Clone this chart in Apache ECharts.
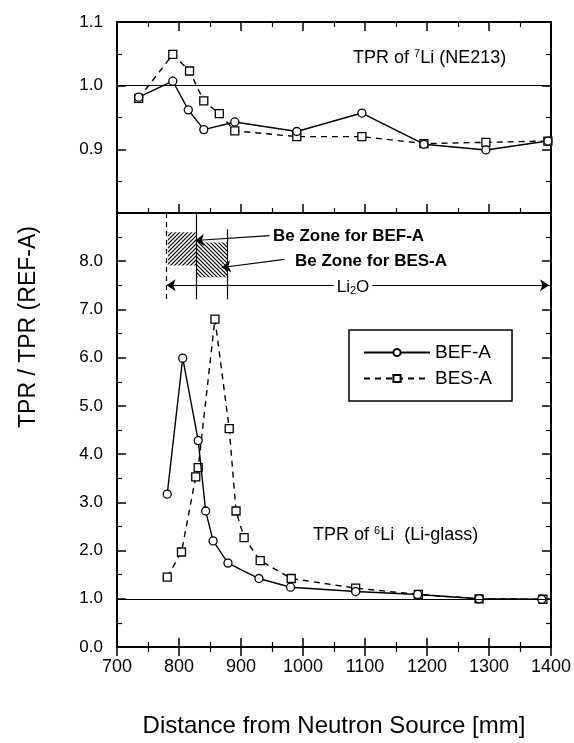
<!DOCTYPE html>
<html><head><meta charset="utf-8">
<script src="https://cdn.jsdelivr.net/npm/echarts@6/dist/echarts.min.js"></script>
<style>html,body{margin:0;padding:0;background:#fff;}#c{width:574px;height:743px;}</style>
</head><body><div id="c"></div>
<script>
// ---- data ----
const topBefX = [735, 790, 815, 840, 890, 990, 1095, 1195, 1295, 1395];
const topBefY = [0.982, 1.007, 0.962, 0.931, 0.943, 0.928, 0.957, 0.908, 0.899, 0.913];
const topBesX = [735, 790, 817, 840, 865, 890, 990, 1095, 1195, 1295, 1395];
const topBesY = [0.980, 1.049, 1.023, 0.976, 0.956, 0.929, 0.920, 0.920, 0.909, 0.911, 0.913];
const botBefX = [781, 806, 831, 843, 855, 879, 929, 980, 1085, 1185, 1284, 1385];
const botBefY = [3.17, 5.99, 4.28, 2.82, 2.20, 1.74, 1.42, 1.24, 1.15, 1.09, 1.00, 0.99];
const botBesX = [781, 804, 827, 831, 858, 881, 892, 905, 931, 981, 1085, 1186, 1284, 1387];
const botBesY = [1.45, 1.97, 3.53, 3.72, 6.80, 4.53, 2.82, 2.27, 1.79, 1.42, 1.22, 1.09, 1.00, 0.99];
// Be zones (distance start/end, ratio low/high)
const zoneNames = ['BEF-A', 'BES-A'];
const zoneX0 = [782, 828];
const zoneX1 = [828, 878];
const zoneYlo = [7.91, 7.67];
const zoneYhi = [8.60, 8.39];
// Li2O region
const li2oStart = 780, li2oEnd = 1397, li2oLevel = 7.5;

const FONT = "'Liberation Sans', Arial, sans-serif";
const zip = (a, b) => a.map((v, i) => [v, b[i]]);

function hatch(dir) {
  const c = document.createElement('canvas'); c.width = 4; c.height = 4;
  const g = c.getContext('2d');
  g.fillStyle = '#fff'; g.fillRect(0, 0, 4, 4);
  g.strokeStyle = '#000'; g.lineWidth = 1.2; g.beginPath();
  if (dir > 0) { g.moveTo(0, 4); g.lineTo(4, 0); g.moveTo(-1, 1); g.lineTo(1, -1); g.moveTo(3, 5); g.lineTo(5, 3); }
  else { g.moveTo(0, 0); g.lineTo(4, 4); g.moveTo(-1, 3); g.lineTo(1, 5); g.moveTo(3, -1); g.lineTo(5, 1); }
  g.stroke(); return c;
}
const hatches = [hatch(1), hatch(-1)];

const chart = echarts.init(document.getElementById('c'), null, {renderer: 'canvas'});
const axLine = {show: true, lineStyle: {color: '#000', width: 2}};
const tick = {show: true, inside: true, length: 9, lineStyle: {color: '#000', width: 1.5}};
const minor = {show: true, splitNumber: 2, length: 5, lineStyle: {color: '#000', width: 1.2}};
function xAx(grid, pos, labels) {
  return {type: 'value', gridIndex: grid, position: pos, min: 700, max: 1400, interval: 100,
    axisLine: axLine, axisTick: tick, minorTick: minor, splitLine: {show: false},
    axisLabel: {show: labels, color: '#000', fontSize: 18, fontFamily: FONT, margin: 11, formatter: v => String(v)},
    name: labels ? 'Distance from Neutron Source [mm]' : '', nameLocation: 'middle', nameGap: 67,
    nameTextStyle: {color: '#000', fontSize: 24, fontFamily: FONT}};
}
function yAx(grid, pos, min, max, interval, labels, fmt) {
  return {type: 'value', gridIndex: grid, position: pos, min: min, max: max, interval: interval,
    axisLine: axLine, axisTick: tick, minorTick: minor, splitLine: {show: false},
    axisLabel: {show: labels, color: '#000', fontSize: 17, fontFamily: FONT, margin: 14, formatter: fmt}};
}
const circ = {color: '#fff', borderColor: '#000', borderWidth: 1.3};
function ser(name, x, y, xi, yi, dashed, extra) {
  return Object.assign({
    name: name, type: 'line', xAxisIndex: xi, yAxisIndex: yi, data: zip(x, y),
    symbol: dashed ? 'rect' : 'circle', symbolSize: 8, showSymbol: true,
    itemStyle: circ, lineStyle: {color: '#000', width: 1.4, type: dashed ? [6, 5] : 'solid'},
    emphasis: {disabled: true}, z: dashed ? 3 : 4
  }, extra || {});
}
const refLine = (data) => ({silent: true, symbol: ['none', 'none'], label: {show: false},
  lineStyle: {color: '#000', width: 1.2, type: 'solid'}, emphasis: {disabled: true}, data: data});

const lblStyle = {fill: '#000', fontFamily: FONT};
const supRich = {sup: {fontSize: 11, verticalAlign: 'top', padding: [0, 0, 8, 0], fontFamily: FONT, color: '#000'}};
const option = {
  animation: false,
  backgroundColor: '#fff',
  grid: [
    {left: 117, top: 22, width: 434, height: 191},
    {left: 117, top: 213, width: 434, height: 436}
  ],
  xAxis: [xAx(0, 'bottom', false), xAx(1, 'bottom', true), xAx(0, 'top', false), xAx(1, 'top', false)],
  yAxis: [
    yAx(0, 'left', 0.8, 1.1, 0.1, true, v => v < 0.85 ? '' : v.toFixed(1)),
    yAx(1, 'left', 0, 9, 1, true, v => v > 8.5 ? '' : v.toFixed(1)),
    yAx(0, 'right', 0.8, 1.1, 0.1, false),
    yAx(1, 'right', 0, 9, 1, false)
  ],
  legend: {
    data: ['BEF-A', 'BES-A'], orient: 'vertical', left: 349, top: 330,
    itemWidth: 66, itemHeight: 9, itemGap: 7, padding: [13, 20, 13, 14],
    borderColor: '#000', borderWidth: 1.5, backgroundColor: '#fff', selectedMode: false,
    textStyle: {color: '#000', fontSize: 19, fontFamily: FONT}
  },
  series: [
    ser('BEF-A', topBefX, topBefY, 0, 0, false, {markLine: refLine([{yAxis: 1.0}])}),
    ser('BES-A', topBesX, topBesY, 0, 0, true),
    {
      type: 'custom', name: 'zones', xAxisIndex: 1, yAxisIndex: 1, silent: true, z: 1,
      encode: {x: [0, 1], y: [2, 3]},
      data: zoneNames.map((n, i) => [zoneX0[i], zoneX1[i], zoneYlo[i], zoneYhi[i], i]),
      renderItem: (params, api) => {
        const p0 = api.coord([api.value(0), api.value(3)]);
        const p1 = api.coord([api.value(1), api.value(2)]);
        return {type: 'rect', shape: {x: p0[0], y: p0[1], width: p1[0] - p0[0], height: p1[1] - p0[1]},
          style: {fill: {image: hatches[api.value(4)], repeat: 'repeat'}, stroke: null}};
      }
    },
    ser('BEF-A', botBefX, botBefY, 1, 1, false, {markLine: refLine([
      {yAxis: 1.0},
      [{coord: [li2oStart, 9], lineStyle: {type: [5, 4], width: 1.2, color: '#000'}}, {coord: [li2oStart, 7.21]}],
      [{coord: [zoneX1[0], 9]}, {coord: [zoneX1[0], 7.21]}],
      [{coord: [zoneX1[1], 8.66]}, {coord: [zoneX1[1], 7.21]}]
    ])}),
    ser('BES-A', botBesX, botBesY, 1, 1, true, {markLine: {
      silent: true, symbol: ['none', 'arrow'], symbolSize: 9, emphasis: {disabled: true},
      lineStyle: {color: '#000', width: 1.2, type: 'solid'}, label: {show: false},
      data: [
        [{coord: [li2oStart, li2oLevel], symbol: 'arrow'}, {coord: [li2oEnd, li2oLevel], symbol: 'arrow'}],
        [{coord: [946, 8.53]}, {coord: [826, 8.43]}],
        [{coord: [970, 8.04]}, {coord: [869, 7.87]}]
      ]
    }})
  ],
  graphic: [
    {type: 'text', x: 29, y: 327, rotation: Math.PI / 2, silent: true, z: 100,
      style: Object.assign({text: 'TPR / TPR (REF-A)', fontSize: 23, align: 'center', verticalAlign: 'middle'}, lblStyle)},
    {type: 'text', x: 353, y: 58, silent: true, z: 100,
      style: Object.assign({text: 'TPR of {sup|7}Li (NE213)', fontSize: 18, verticalAlign: 'middle', rich: supRich}, lblStyle)},
    {type: 'text', x: 313, y: 535, silent: true, z: 100,
      style: Object.assign({text: 'TPR of {sup|6}Li  (Li-glass)', fontSize: 18, verticalAlign: 'middle', rich: supRich}, lblStyle)},
    {type: 'text', x: 273, y: 236, silent: true, z: 100,
      style: Object.assign({text: 'Be Zone for BEF-A', fontSize: 17, fontWeight: 'bold', verticalAlign: 'middle'}, lblStyle)},
    {type: 'text', x: 295, y: 261, silent: true, z: 100,
      style: Object.assign({text: 'Be Zone for BES-A', fontSize: 17, fontWeight: 'bold', verticalAlign: 'middle'}, lblStyle)},
    {type: 'text', x: 353, y: 287, silent: true, z: 100,
      style: Object.assign({text: 'Li{sub|2}O', fontSize: 17, align: 'center', verticalAlign: 'middle',
        backgroundColor: '#fff', padding: [0, 3, 0, 3],
        rich: {sub: {fontSize: 11, fontFamily: FONT, color: '#000', verticalAlign: 'bottom', padding: [8, 0, 0, 0]}}}, lblStyle)}
  ]
};
chart.setOption(option);
</script></body></html>
